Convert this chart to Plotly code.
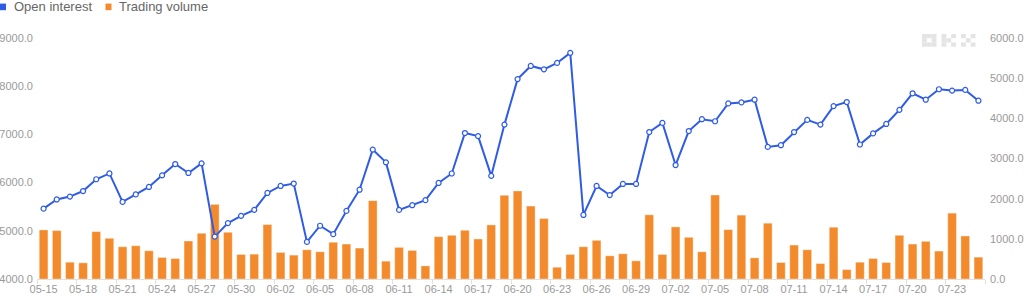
import plotly.graph_objects as go

dates = ["05-15","05-16","05-17","05-18","05-19","05-20","05-21","05-22","05-23","05-24",
         "05-25","05-26","05-27","05-28","05-29","05-30","05-31","06-01","06-02","06-03",
         "06-04","06-05","06-06","06-07","06-08","06-09","06-10","06-11","06-12","06-13",
         "06-14","06-15","06-16","06-17","06-18","06-19","06-20","06-21","06-22","06-23",
         "06-24","06-25","06-26","06-27","06-28","06-29","06-30","07-01","07-02","07-03",
         "07-04","07-05","07-06","07-07","07-08","07-09","07-10","07-11","07-12","07-13",
         "07-14","07-15","07-16","07-17","07-18","07-19","07-20","07-21","07-22","07-23",
         "07-24","07-25"]

open_interest = [5460,5650,5710,5825,6070,6190,5600,5755,5910,6150,
                 6385,6200,6400,4880,5160,5310,5435,5785,5930,5980,
                 4770,5105,4930,5413,5853,6685,6420,5434,5531,5636,
                 5993,6189,7028,6965,6140,7203,8147,8420,8350,8483,
                 8692,5329,5930,5741,5972,5972,7049,7238,6364,7070,
                 7315,7273,7643,7664,7720,6741,6776,7049,7301,7203,
                 7587,7671,6790,7021,7217,7510,7853,7720,7937,7909,
                 7923,7699]

trading_volume = [1222,1205,418,402,1180,1013,803,828,703,536,
                  510,946,1138,1858,1163,611,619,1356,661,594,
                  728,678,915,870,770,1950,444,787,711,326,
                  1054,1088,1213,996,1347,2084,2192,1816,1506,293,
                  611,803,962,577,628,452,1598,611,1297,1038,
                  678,2092,1230,1590,527,1389,410,845,728,385,
                  1289,234,418,510,410,1088,870,937,695,1640,
                  1071,544]

left_ticks = [4000, 5000, 6000, 7000, 8000, 9000]
right_ticks = [0, 1000, 2000, 3000, 4000, 5000, 6000]

BLUE = "#2F5CE4"
ORANGE = "#F38B2D"
TICK_GRAY = "#9a9a9a"
LEGEND_GRAY = "#666666"
FONT = "Liberation Sans, Arial, sans-serif"

W_FIG, H_FIG = 1024, 296
ML, MR, MT, MB = 37, 39, 38, 17
PW = W_FIG - ML - MR
PH = H_FIG - MT - MB

def px(xpix):
    return (xpix - ML) / PW

def py(ypix):
    return 1 - (ypix - MT) / PH

idx = list(range(len(dates)))

fig = go.Figure()
fig.add_trace(go.Bar(
    x=idx, y=trading_volume, name="Trading volume",
    marker=dict(color=ORANGE, line=dict(color="rgba(255,255,255,0.35)", width=1)),
    yaxis="y", showlegend=False, hoverinfo="skip"))
fig.add_trace(go.Scatter(
    x=idx, y=open_interest, name="Open interest", mode="lines+markers",
    line=dict(color=BLUE, width=2),
    marker=dict(symbol="circle", size=5, color="white", line=dict(color=BLUE, width=1.2)),
    yaxis="y2", showlegend=False, hoverinfo="skip"))

shapes = []
annotations = []
# legend (drawn manually)
for sx, col, label in [(0, BLUE, "Open interest"), (105.5, ORANGE, "Trading volume")]:
    shapes.append(dict(type="rect", xref="paper", yref="paper",
                       x0=px(sx), x1=px(sx + 6), y0=py(10.2), y1=py(3.6),
                       fillcolor=col, line=dict(width=0)))
    annotations.append(dict(text=label, xref="paper", yref="paper",
                            x=px(sx + 11.5), y=py(6.6), xanchor="left", yanchor="middle",
                            showarrow=False, font=dict(size=13, color=LEGEND_GRAY, family=FONT)))

# OKX watermark
LOGO = "#e4e4e4"
top, h = 34.0, 12.7
b = h / 3
bw = 14.5 / 3
letters = {
    922.0: [(0,0),(1,0),(2,0),(0,1),(2,1),(0,2),(1,2),(2,2)],
    941.5: [(0,0),(2,0),(0,1),(1,1),(0,2),(2,2)],
    961.0: [(0,0),(2,0),(1,1),(0,2),(2,2)],
}
for lx, cells in letters.items():
    for cx, cy in cells:
        shapes.append(dict(type="rect", xref="paper", yref="paper",
                           x0=px(lx + cx * bw), x1=px(lx + (cx + 1) * bw),
                           y0=py(top + (cy + 1) * b), y1=py(top + cy * b),
                           fillcolor=LOGO, line=dict(width=0), layer="below"))

fig.update_layout(
    width=W_FIG, height=H_FIG,
    margin=dict(l=ML, r=MR, t=MT, b=MB, pad=0, autoexpand=False),
    paper_bgcolor="white", plot_bgcolor="white",
    font=dict(family=FONT, size=11, color=TICK_GRAY),
    bargap=0.34,
    showlegend=False,
    xaxis=dict(
        range=[-0.5, len(dates) - 0.5], automargin=False,
        tickmode="array", tickvals=idx[::3], ticktext=dates[::3],
        ticks="", showgrid=False, zeroline=False,
        showline=True, linecolor="#e0e0e0", linewidth=1,
        tickfont=dict(size=11, color=TICK_GRAY, family=FONT),
        minor=dict(tickmode="linear", tick0=-0.5, dtick=3, ticks="outside",
                   ticklen=4, tickcolor="#e0e0e0", tickwidth=1, showgrid=False),
    ),
    yaxis=dict(
        side="right", range=[0, 6000], tickmode="array", tickvals=right_ticks,
        tickformat=".1f", showgrid=False, zeroline=False, showline=False, ticks="",
        ticklabelstandoff=4, automargin=False,
        tickfont=dict(size=11, color=TICK_GRAY, family=FONT),
    ),
    yaxis2=dict(
        overlaying="y", side="left", range=[4000, 9000], tickmode="array",
        tickvals=left_ticks, tickformat=".1f", showgrid=False, zeroline=False,
        showline=False, ticks="", ticklabelstandoff=3, automargin=False,
        tickfont=dict(size=11, color=TICK_GRAY, family=FONT),
    ),
    shapes=shapes,
    annotations=annotations,
)

fig.write_html("out.html")
